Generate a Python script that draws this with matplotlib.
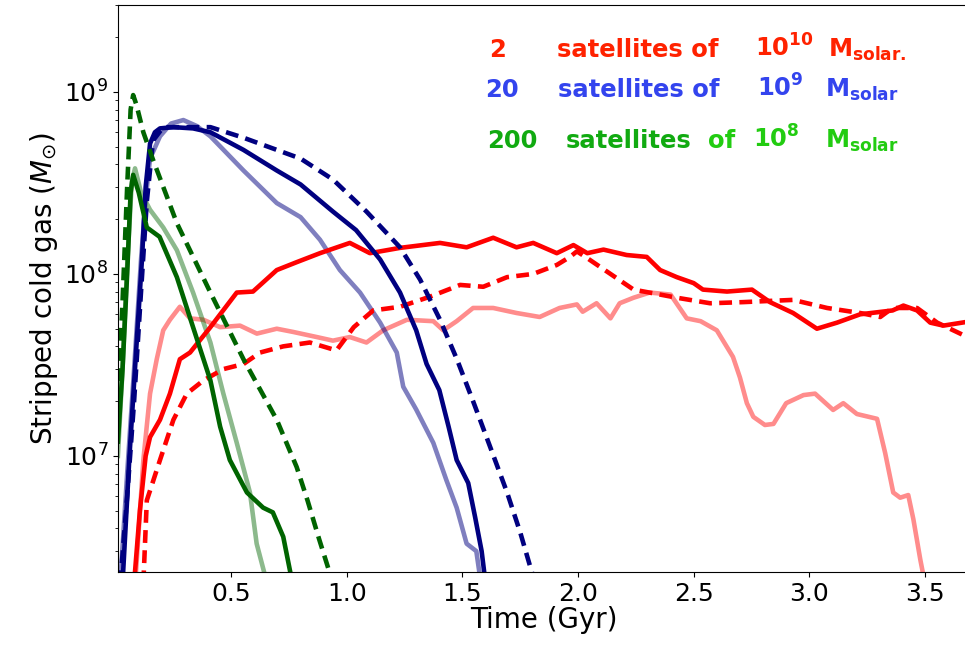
import numpy as np
import matplotlib
matplotlib.use("Agg")
import matplotlib.pyplot as plt

# --- 2 satellites of 1e10 Msun (red) ---
red_t = [0.08, 0.105, 0.13, 0.149, 0.192, 0.235, 0.278, 0.322, 0.41, 0.524,
         0.594, 0.697, 0.783, 0.884, 1.013, 1.1, 1.23, 1.403, 1.518, 1.633,
         1.734, 1.806, 1.908, 1.98, 2.04, 2.11, 2.21, 2.297, 2.355, 2.427,
         2.5, 2.54, 2.644, 2.752, 2.83, 2.93, 3.033, 3.12, 3.22, 3.36,
         3.407, 3.466, 3.523, 3.58, 3.70]
red_m = [2.0e6, 5.0e6, 1.0e7, 1.27e7, 1.58e7, 2.2e7, 3.4e7, 3.7e7, 5.1e7, 7.9e7,
         8.0e7, 1.05e8, 1.16e8, 1.3e8, 1.48e8, 1.3e8, 1.39e8, 1.48e8, 1.4e8, 1.58e8,
         1.4e8, 1.48e8, 1.3e8, 1.44e8, 1.3e8, 1.36e8, 1.27e8, 1.24e8, 1.05e8, 9.6e7,
         8.9e7, 8.2e7, 8.0e7, 8.2e7, 7.0e7, 6.1e7, 5.0e7, 5.4e7, 6.0e7, 6.3e7,
         6.7e7, 6.3e7, 5.4e7, 5.2e7, 5.5e7]

red_dash_t = [0.12, 0.135, 0.192, 0.25, 0.308, 0.38, 0.466, 0.553, 0.625, 0.725,
              0.84, 0.955, 1.03, 1.114, 1.23, 1.36, 1.49, 1.59, 1.693, 1.806,
              1.908, 1.965, 1.995, 2.04, 2.14, 2.24, 2.355, 2.427, 2.571, 2.714,
              2.93, 3.077, 3.22, 3.307, 3.36, 3.466, 3.553, 3.70]
red_dash_m = [2.0e6, 5.7e6, 9.5e6, 1.58e7, 2.2e7, 2.6e7, 3.0e7, 3.2e7, 3.7e7, 4.0e7,
              4.2e7, 3.8e7, 5.1e7, 6.3e7, 6.6e7, 7.5e7, 8.7e7, 8.5e7, 9.6e7, 1.0e8,
              1.12e8, 1.24e8, 1.33e8, 1.22e8, 1.0e8, 8.2e7, 7.7e7, 7.4e7, 6.9e7, 7.0e7,
              7.2e7, 6.5e7, 6.1e7, 5.8e7, 6.5e7, 6.5e7, 5.4e7, 4.4e7]

red_faint_t = [0.085, 0.12, 0.149, 0.178, 0.206, 0.235, 0.278, 0.322, 0.38, 0.452,
               0.538, 0.611, 0.697, 0.768, 0.87, 0.94, 1.013, 1.085, 1.157, 1.26,
               1.374, 1.417, 1.475, 1.546, 1.633, 1.734, 1.834, 1.92, 1.995, 2.02,
               2.08, 2.14, 2.18, 2.24, 2.31, 2.40, 2.47, 2.53, 2.60, 2.67,
               2.70, 2.73, 2.758, 2.808, 2.845, 2.90, 2.975, 3.025, 3.103, 3.147,
               3.206, 3.293, 3.328, 3.363, 3.393, 3.428, 3.45, 3.48, 3.50]
red_faint_m = [2.0e6, 9.5e6, 2.2e7, 3.4e7, 4.9e7, 5.6e7, 6.6e7, 5.7e7, 5.6e7, 5.1e7,
               5.2e7, 4.7e7, 5.0e7, 4.8e7, 4.5e7, 4.3e7, 4.5e7, 4.2e7, 4.9e7, 5.6e7,
               5.5e7, 4.9e7, 5.5e7, 6.5e7, 6.5e7, 6.1e7, 5.8e7, 6.5e7, 6.8e7, 6.2e7,
               6.9e7, 5.7e7, 6.9e7, 7.4e7, 7.9e7, 7.7e7, 5.7e7, 5.5e7, 4.9e7, 3.5e7,
               2.7e7, 1.95e7, 1.64e7, 1.48e7, 1.5e7, 1.95e7, 2.16e7, 2.2e7, 1.79e7, 1.95e7,
               1.7e7, 1.6e7, 1.04e7, 6.3e6, 5.9e6, 6.1e6, 4.5e6, 2.7e6, 2.0e6]

# --- 20 satellites of 1e9 Msun (navy) ---
navy_t = [0.03, 0.06, 0.09, 0.114, 0.13, 0.149, 0.17, 0.192, 0.25, 0.335,
          0.41, 0.553, 0.697, 0.80, 0.94, 1.04, 1.144, 1.23, 1.30, 1.345,
          1.40, 1.44, 1.475, 1.525, 1.555, 1.583, 1.60]
navy_m = [2.0e6, 1.0e7, 4.0e7, 1.2e8, 3.0e8, 5.2e8, 6.0e8, 6.3e8, 6.4e8, 6.3e8,
          6.0e8, 4.8e8, 3.7e8, 3.1e8, 2.2e8, 1.74e8, 1.2e8, 7.9e7, 4.9e7, 3.2e7,
          2.3e7, 1.45e7, 9.5e6, 7.1e6, 4.6e6, 3.0e6, 2.0e6]

navy_dash_t = [0.02, 0.05, 0.08, 0.11, 0.135, 0.162, 0.206, 0.41, 0.553, 0.697,
               0.80, 0.94, 1.085, 1.23, 1.317, 1.403, 1.476, 1.546, 1.62, 1.693,
               1.75, 1.80, 1.82]
navy_dash_m = [2.0e6, 6.0e6, 2.0e7, 8.0e7, 2.5e8, 5.4e8, 6.4e8, 6.4e8, 5.6e8, 4.8e8,
               4.3e8, 3.3e8, 2.2e8, 1.4e8, 9.3e7, 5.6e7, 3.4e7, 2.0e7, 1.12e7, 6.3e6,
               3.8e6, 2.3e6, 2.0e6]

navy_faint_t = [0.02, 0.05, 0.08, 0.11, 0.13, 0.149, 0.192, 0.24, 0.293, 0.35,
                0.41, 0.553, 0.697, 0.80, 0.884, 0.97, 1.057, 1.144, 1.216, 1.244,
                1.30, 1.374, 1.43, 1.475, 1.518, 1.56, 1.58]
navy_faint_m = [2.0e6, 8.0e6, 3.0e7, 1.2e8, 2.6e8, 4.3e8, 5.7e8, 6.7e8, 7.0e8, 6.5e8,
                5.7e8, 3.7e8, 2.45e8, 2.05e8, 1.54e8, 1.05e8, 7.9e7, 5.4e7, 3.7e7, 2.4e7,
                1.8e7, 1.18e7, 7.4e6, 5.2e6, 3.3e6, 3.0e6, 2.0e6]

# --- 200 satellites of 1e8 Msun (green) ---
green_t = [0.01, 0.03, 0.05, 0.065, 0.076, 0.1, 0.135, 0.19, 0.265, 0.335,
           0.41, 0.452, 0.494, 0.568, 0.638, 0.68, 0.725, 0.765]
green_m = [1.2e7, 3.0e7, 1.0e8, 2.8e8, 3.5e8, 2.8e8, 1.8e8, 1.6e8, 9.6e7, 5.1e7,
           2.6e7, 1.45e7, 9.5e6, 6.3e6, 5.2e6, 4.9e6, 3.6e6, 2.0e6]

green_dash_t = [0.01, 0.03, 0.05, 0.065, 0.076, 0.09, 0.12, 0.16, 0.265, 0.41,
                0.553, 0.697, 0.783, 0.83, 0.88, 0.94]
green_dash_m = [2.0e7, 7.0e7, 3.0e8, 8.0e8, 9.6e8, 8.5e8, 6.0e8, 4.3e8, 1.9e8, 7.9e7,
                3.4e7, 1.58e7, 8.7e6, 5.7e6, 3.5e6, 2.0e6]

green_faint_t = [0.01, 0.03, 0.05, 0.07, 0.084, 0.11, 0.149, 0.206, 0.265, 0.335,
                 0.41, 0.466, 0.524, 0.581, 0.61, 0.655]
green_faint_m = [1.0e7, 3.0e7, 1.1e8, 3.2e8, 3.8e8, 2.8e8, 2.25e8, 1.8e8, 1.35e8, 7.9e7,
                 4.2e7, 2.2e7, 1.18e7, 6.3e6, 3.3e6, 2.0e6]


fig = plt.figure(figsize=(9.65, 6.49), dpi=100, facecolor="w")
ax = fig.add_axes([118/965, 77/649, 852/965, 567/649])

lw = 3.3
dash = (2.8, 1.6)

ax.plot(red_faint_t, red_faint_m, color="red", alpha=0.45, lw=lw)
ax.plot(navy_faint_t, navy_faint_m, color="navy", alpha=0.5, lw=lw)
ax.plot(green_faint_t, green_faint_m, color="darkgreen", alpha=0.45, lw=lw)

ax.plot(red_t, red_m, color="red", lw=lw)
ax.plot(red_dash_t, red_dash_m, color="red", lw=lw, ls=(0, dash))
ax.plot(navy_t, navy_m, color="navy", lw=lw)
ax.plot(navy_dash_t, navy_dash_m, color="navy", lw=lw, ls=(0, dash))
ax.plot(green_t, green_m, color="darkgreen", lw=lw)
ax.plot(green_dash_t, green_dash_m, color="darkgreen", lw=lw, ls=(0, dash))

ax.set_yscale("log")
ax.set_xlim(0.0104, 3.695)
ax.set_ylim(2.305e6, 3.0e9)
ax.set_xticks([0.5, 1.0, 1.5, 2.0, 2.5, 3.0, 3.5])
ax.tick_params(labelsize=18)
ax.spines['right'].set_visible(False)
ax.set_xlabel("Time (Gyr)", fontsize=20, labelpad=0)
ax.set_ylabel(r"Stripped cold gas ($M_{\odot}$)", fontsize=20, labelpad=3)


# legend-like annotation, placed in pixel units from the top-left corner
def note(px, py, s, color):
    fig.text(px/965, 1 - py/649, s, color=color, fontsize=17.5,
             fontweight="bold", va="baseline", ha="left")

red_c, blue_c, green_a, green_b = "#ff2200", "#3344ee", "#11aa11", "#22cc11"

note(489, 57, "2", red_c)
note(557, 57, "satellites of", red_c)
note(755, 57, r"$\mathbf{10}^{\mathbf{10}}$", red_c)
note(828, 57, r"$\mathbf{M}_{\mathbf{solar.}}$", red_c)

note(485, 97, "20", blue_c)
note(558, 97, "satellites of", blue_c)
note(757, 97, r"$\mathbf{10}^{\mathbf{9}}$", blue_c)
note(825, 97, r"$\mathbf{M}_{\mathbf{solar}}$", blue_c)

note(487, 148, "200", green_a)
note(566, 148, "satellites", green_a)
note(708, 148, "of", green_b)
note(753, 148, r"$\mathbf{10}^{\mathbf{8}}$", green_b)
note(825, 148, r"$\mathbf{M}_{\mathbf{solar}}$", green_b)

fig.savefig("out.png", dpi=100)
